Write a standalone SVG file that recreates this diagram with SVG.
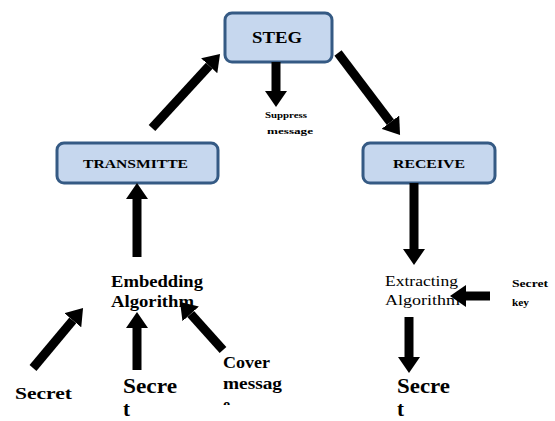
<svg xmlns="http://www.w3.org/2000/svg" width="555" height="421" viewBox="0 0 555 421">
<style>
.box{fill:#c6d7ee;stroke:#355a84;stroke-width:3}
.t{font-family:"Liberation Serif","Times New Roman",serif;font-weight:bold;fill:#000}
.n{font-family:"Liberation Serif","Times New Roman",serif;fill:#000}
.c line{stroke:#000;stroke-width:9;marker-end:url(#ah)}
</style>
<defs>
<marker id="ah" markerUnits="userSpaceOnUse" viewBox="0 0 16 22" refX="0" refY="11" markerWidth="16" markerHeight="22" orient="auto">
<path d="M0,0 L16,11 L0,22 Z" fill="#000"/>
</marker>
<clipPath id="clipE"><rect x="215" y="395" width="40" height="10"/></clipPath>
</defs>
<rect width="555" height="421" fill="#fff"/>
<g id="steg">
<rect class="box" x="225" y="13" width="107" height="49" rx="7"/>
<text class="t" x="252" y="43" font-size="17" textLength="50" lengthAdjust="spacingAndGlyphs">STEG</text>
</g>
<g id="suppress">
<text class="t" x="265" y="118" font-size="9" textLength="42" lengthAdjust="spacingAndGlyphs">Suppress</text>
<text class="t" x="267" y="134" font-size="9" textLength="46" lengthAdjust="spacingAndGlyphs">message</text>
</g>
<g id="transmitter">
<rect class="box" x="57" y="143" width="161" height="40" rx="7"/>
<text class="t" x="83" y="168" font-size="13" textLength="105" lengthAdjust="spacingAndGlyphs">TRANSMITTE</text>
</g>
<g id="receiver">
<rect class="box" x="363" y="143" width="132" height="40" rx="7"/>
<text class="t" x="393" y="168" font-size="13" textLength="72" lengthAdjust="spacingAndGlyphs">RECEIVE</text>
</g>
<g id="embedding">
<text class="t" x="111" y="287" font-size="17" textLength="92" lengthAdjust="spacingAndGlyphs">Embedding</text>
<text class="t" x="111" y="307" font-size="17" textLength="83" lengthAdjust="spacingAndGlyphs">Algorithm</text>
</g>
<g id="secret-left">
<text class="t" x="15" y="399" font-size="17" textLength="57" lengthAdjust="spacingAndGlyphs">Secret</text>
</g>
<g id="secret-mid">
<text class="t" x="123" y="393" font-size="21" textLength="54" lengthAdjust="spacingAndGlyphs">Secre</text>
<text class="t" x="123" y="416" font-size="21">t</text>
</g>
<g id="cover">
<text class="t" x="223" y="368" font-size="16" textLength="47" lengthAdjust="spacingAndGlyphs">Cover</text>
<text class="t" x="223" y="389" font-size="16" textLength="59" lengthAdjust="spacingAndGlyphs">messag</text>
<text class="t" x="223" y="410" font-size="16" clip-path="url(#clipE)">e</text>
</g>
<g id="extracting">
<text class="n" x="385" y="286" font-size="14" textLength="73" lengthAdjust="spacingAndGlyphs">Extracting</text>
<text class="n" x="385" y="305" font-size="14" textLength="75" lengthAdjust="spacingAndGlyphs">Algorithm</text>
</g>
<g id="secret-key">
<text class="t" x="512" y="287" font-size="10" textLength="36" lengthAdjust="spacingAndGlyphs">Secret</text>
<text class="t" x="512" y="306" font-size="10" textLength="17" lengthAdjust="spacingAndGlyphs">key</text>
</g>
<g id="secret-right">
<text class="t" x="397" y="393" font-size="21" textLength="53" lengthAdjust="spacingAndGlyphs">Secre</text>
<text class="t" x="397" y="416" font-size="21">t</text>
</g>
<g id="connectors" class="c">
<line x1="152" y1="128" x2="209.2" y2="65.8"/>
<line x1="276" y1="62" x2="276" y2="91"/>
<line x1="338" y1="53" x2="390.4" y2="122.2"/>
<line x1="137" y1="257" x2="137" y2="199"/>
<line x1="33" y1="368" x2="72.8" y2="320.3"/>
<line x1="137" y1="370" x2="137" y2="328"/>
<line x1="223" y1="350" x2="190.7" y2="313.9"/>
<line x1="414" y1="183" x2="414" y2="249"/>
<line x1="490" y1="296" x2="466" y2="296"/>
<line x1="409" y1="317" x2="409" y2="357"/>
</g>
</svg>
